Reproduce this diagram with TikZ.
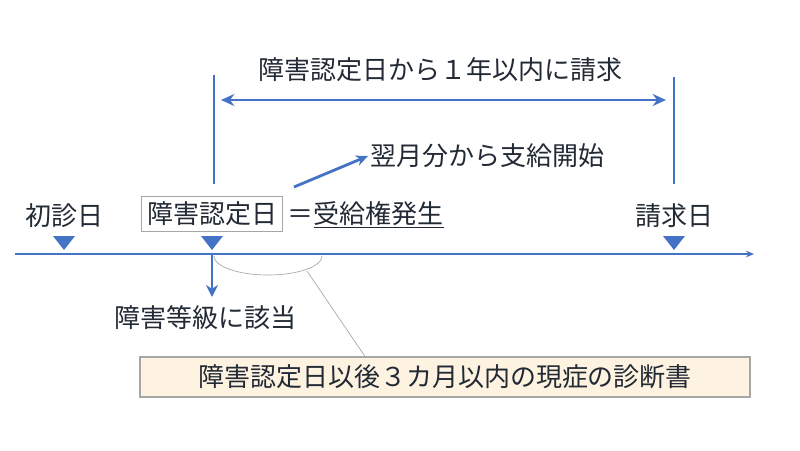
\documentclass[tikz,border=0pt]{standalone}
\usepackage{fontspec}
\setmainfont{Noto Sans CJK JP}
\usetikzlibrary{arrows.meta,positioning,calc}
\definecolor{lineblue}{HTML}{4472C4}
\definecolor{textdark}{HTML}{222A35}
\definecolor{boxgray}{HTML}{A6A6A6}
\definecolor{cream}{HTML}{FDF3E0}

\begin{document}
\begin{tikzpicture}[x=0.75pt, y=-0.75pt,
    lbl/.style={font=\fontsize{19.5pt}{22pt}\selectfont, text=textdark, inner sep=2pt},
    daybox/.style={lbl, draw=boxgray, line width=0.8pt, inner sep=4pt},
    notebox/.style={lbl, draw=boxgray, fill=cream, line width=0.8pt, minimum width=457.5pt, minimum height=30pt},
    blueline/.style={lineblue, line width=2.1pt},
    thinline/.style={boxgray, line width=0.5pt},
    daymark/.pic={\fill[lineblue] (-11,-7) -- (11,-7) -- (0,7) -- cycle;}]
    \useasboundingbox (0,0) rectangle (800,450);
    % timeline
    \coordinate (lineL) at (15,254);
    \coordinate (lineR) at (754,254);
    \draw[blueline, -{Stealth[length=6pt, width=5pt]}] (lineL) -- (lineR);
    % days
    \node[lbl] (shoshin) at (65,216) {初診日};
    \node[daybox] (nintei) at (212,214) {障害認定日};
    \node[lbl, anchor=west] (jukyu) at (285,215) {＝\underline{受給権発生}};
    \node[lbl] (seikyu) at (674,216) {請求日};
    \pic at (64,243) {daymark};
    \pic at (212,243) {daymark};
    \pic at (674,243) {daymark};
    % claim period
    \coordinate (ninteiTop) at (214,75);
    \coordinate (ninteiBot) at (214,184);
    \coordinate (seikyuTop) at (674,77);
    \coordinate (seikyuBot) at (674,184);
    \draw[blueline] (ninteiTop) -- (ninteiBot);
    \draw[blueline] (seikyuTop) -- (seikyuBot);
    \coordinate (spanL) at (221,100);
    \coordinate (spanR) at (666,100);
    \draw[blueline, {Stealth[length=10pt, width=9pt]}-{Stealth[length=10pt, width=9pt]}] (spanL) -- (spanR);
    \node[lbl] (span) at (440,70) {障害認定日から１年以内に請求};
    % payment
    \node[lbl, anchor=west] (shikyu) at (368,156) {翌月分から支給開始};
    \coordinate (shikyuFrom) at (294,187);
    \draw[blueline, -{Stealth[length=9pt, width=8pt]}] (shikyuFrom) -- (shikyu.west);
    % grade
    \coordinate (gradeFrom) at (212,255);
    \node[lbl] (tokyu) at (205,318) {障害等級に該当};
    \draw[blueline, -{Stealth[length=9pt, width=9pt]}] (gradeFrom) -- ++(0,42);
    % certificate
    \draw[thinline] (322,256) arc[start angle=0, end angle=180, x radius=54, y radius=19];
    \node[notebox] (shindan) at (445,377) {障害認定日以後３カ月以内の現症の診断書};
    \coordinate (arcPt) at (307,271);
    \draw[thinline] (arcPt) -- (shindan.north -| 365,0);
\end{tikzpicture}
\end{document}
